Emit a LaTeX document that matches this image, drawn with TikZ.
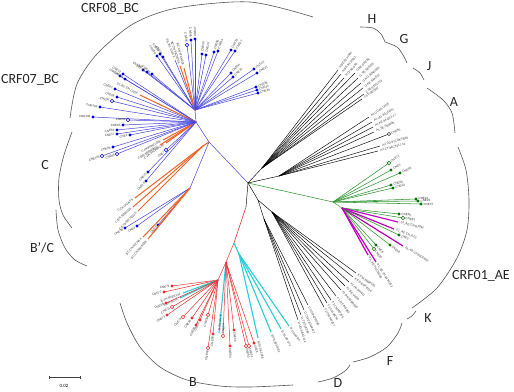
\documentclass[tikz,border=0pt]{standalone}
\usepackage{fontspec}
\setmainfont{Carlito}
\newfontfamily\leaffont{Liberation Sans}
\definecolor{cblue}{RGB}{70,70,225}
\definecolor{cbdot}{RGB}{0,0,215}
\definecolor{corange}{RGB}{240,100,40}
\definecolor{cred}{RGB}{235,45,45}
\definecolor{ccyan}{RGB}{40,205,215}
\definecolor{cgreen}{RGB}{50,150,50}
\definecolor{cgdot}{RGB}{0,115,0}
\definecolor{cmag}{RGB}{190,0,190}
\definecolor{carc}{RGB}{85,85,85}
\tikzset{
  blu/.style={draw=cblue,line width=0.5pt},
  ora/.style={draw=corange,line width=1pt},
  rd/.style={draw=cred,line width=0.5pt},
  cyn/.style={draw=ccyan,line width=1.1pt},
  grn/.style={draw=cgreen,line width=0.55pt},
  mag/.style={draw=cmag,line width=1.2pt},
  blk/.style={draw=black,line width=0.45pt},
  dB/.style={fill=cbdot},
  oB/.style={draw=cbdot,fill=white,line width=0.5pt},
  dR/.style={fill=cred},
  oR/.style={draw=cred,fill=white,line width=0.5pt},
  dG/.style={fill=cgdot},
  oG/.style={draw=cgdot,fill=white,line width=0.5pt},
  oK/.style={draw=black,fill=white,line width=0.4pt},
  nomk/.style={},
  lbl/.style={font=\leaffont\fontsize{3}{3}\selectfont,text=black!80,inner xsep=2.3pt,inner ysep=0.2pt,sloped},
  clade/.style={font=\fontsize{14}{16}\selectfont,text=black!85},
  arcs/.style={draw=carc,line width=0.6pt}
}
\newcount\lfc
\newcommand\leafR[5]{\global\advance\lfc by 1
  \coordinate (lf\the\lfc) at (#2);
  \draw[#3] (#1) -- (lf\the\lfc) node[lbl,pos=1,anchor=west]{#5};
  \path[#4] (lf\the\lfc) circle[radius=1.7];}
\newcommand\leafL[5]{\global\advance\lfc by 1
  \coordinate (lf\the\lfc) at (#2);
  \draw[#3] (#1) -- (lf\the\lfc) node[lbl,pos=1,anchor=east]{#5};
  \path[#4] (lf\the\lfc) circle[radius=1.7];}
\begin{document}
\begin{tikzpicture}[x=1pt,y=-1pt]
\useasboundingbox (0,0) rectangle (514,391);
\fill[white] (0,0) rectangle (514,391);
% ---------- internal nodes ----------
\coordinate (R) at (248,183);
\coordinate (Tb) at (209,142);
\coordinate (H1) at (196,122);
\coordinate (H2) at (195,110);
\coordinate (O1) at (203,146);
\coordinate (Cb) at (190,188);
\coordinate (U1) at (262,168);
\coordinate (U2) at (279,176);
\coordinate (Gh) at (333,202);
\coordinate (Gm) at (342,208);
\coordinate (Dh) at (258,200);
\coordinate (Fh) at (272,212);
\coordinate (Dd) at (264,219);
\coordinate (Rb1) at (246,207);
\coordinate (Rb2) at (234,243);
\coordinate (Rb3) at (218,280);
\coordinate (Rd) at (226,262);
\coordinate (Rc) at (239,254);
% ---------- trunks ----------
\draw[blu] (R) -- (Tb) -- (H1) -- (H2);
\draw[blu] (Tb) -- (Cb);
\draw[ora] (Tb) -- (O1);
\draw[blk] (R) -- (U1);
\draw[blk] (R) -- (U2);
\draw[grn] (R) -- (Gh) -- (Gm);
\draw[blk] (R) -- (Dh) -- (Fh);
\draw[blk] (Dh) -- (Dd);
\draw[blk] (R) -- (Rb1);
\draw[rd] (Rb1) -- (Rb2) -- (Rd) -- (Rb3);
\draw[cyn] (Rb2) -- (Rc);
% ---------- CRF08_BC ----------
\leafL{H2}{143,70}{blu}{dB}{CNE42}
\leafL{H2}{147,72}{blu}{dB}{CNE40}
\leafL{H2}{152,74}{blu}{dB}{CNE26}
\leafL{H2}{157,56}{blu}{dB}{CNE50}
\leafL{H2}{160,54}{blu}{dB}{CNE52}
\leafL{H2}{163,57}{blu}{dB}{CNE49}
\leafL{H2}{175,60}{blu}{nomk}{08\_BC.CN.GX}
\leafL{H2}{180,66}{ora}{nomk}{BC.CN.98CN006}
\leafL{H2}{184,68}{ora}{nomk}{BC.CN.97CN001}
\leafL{H2}{187,45}{blu}{oB}{CNE46}
\leafL{H2}{191,40}{blu}{dB}{CNE45}
\leafR{H2}{195,39}{blu}{dB}{CNE47}
\leafR{H2}{202,54}{blu}{dB}{CNE30}
\leafR{H2}{206,55}{blu}{dB}{CNE19}
\leafR{H2}{214,52}{blu}{dB}{CNE48}
\leafR{H2}{218,51}{blu}{dB}{CNE34}
\leafR{H2}{231,50}{blu}{dB}{CNE33}
\leafR{H2}{235,51}{blu}{dB}{CNE27}
\leafR{H2}{231,73}{blu}{dB}{CNE54}
\leafR{H2}{233,77}{blu}{dB}{CNE31}
\leafR{H2}{254,69}{blu}{dB}{CNE22}
\leafR{H2}{257,73}{blu}{dB}{CNE21}
\leafR{H2}{256,87}{blu}{dB}{CNE38}
\leafR{H2}{257,90}{blu}{dB}{CNE43}
\leafR{H2}{258,93}{blu}{dB}{CNE39}
% ---------- CRF07_BC ----------
\leafL{H1}{120,76}{blu}{dB}{CNE14}
\leafL{H1}{123,74}{blu}{dB}{CNE12}
\leafL{H1}{125,79}{blu}{dB}{CNE63}
\leafL{H1}{140,95}{ora}{nomk}{07\_BC.CN.CN54}
\leafL{H1}{115,89}{blu}{dB}{CNE67}
\leafL{H1}{117,97}{blu}{dB}{CNE66}
\leafL{H1}{112,101}{blu}{oB}{CNE92}
\leafL{H1}{100,107}{blu}{dB}{CNE103}
\leafL{H1}{93,117}{blu}{dB}{CNE106}
\leafL{H1}{128,120}{blu}{oB}{CNE68}
\leafL{H1}{123,125}{blu}{dB}{CNE65}
\leafL{H1}{117,130}{blu}{dB}{CNE82}
\leafL{H1}{117,134}{blu}{dB}{CNE17}
\leafL{H1}{130,135}{blu}{dB}{CNE2}
% ---------- C ----------
\leafL{H1}{166,143}{ora}{nomk}{C.ZA.04ZASK146}
\leafL{H1}{163,140}{ora}{nomk}{C.IN.95IN21068}
\leafL{H1}{160,145}{ora}{nomk}{C.BW.96BW0502}
\leafL{H1}{166,150}{blu}{oB}{CNE7}
\leafL{H1}{113,147}{blu}{dB}{CNE86}
\leafL{H1}{117,154}{blu}{oB}{CNE85}
\leafL{H1}{102,156}{blu}{oB}{CNE103}
\leafL{H1}{148,172}{blu}{dB}{CNE15}
\leafL{H1}{146,181}{blu}{dB}{CNE16}
\leafL{O1}{135,198}{ora}{nomk}{C.ZA.04ZAPS}
\leafL{O1}{133,207}{ora}{nomk}{C.BR.92BR025}
\leafL{O1}{138,211}{ora}{nomk}{C.ET.86ETH2220}
% ---------- B'/C ----------
\leafL{Cb}{125,228}{blu}{dB}{CNE18}
\leafL{Cb}{137,226}{blu}{dB}{CNE3}
\leafL{Cb}{158,225}{blu}{dB}{CNE6}
\leafL{Cb}{143,237}{ora}{nomk}{BC.CN.97CN54}
\leafL{Cb}{148,239}{ora}{nomk}{BC.CN.98CN009}
\leafL{Cb}{153,233}{ora}{nomk}{}
% ---------- H G J ----------
\leafR{U1}{338,70}{blk}{nomk}{H.BE.93.VI997}
\leafR{U1}{341,74}{blk}{nomk}{H.BE.93.VI991}
\leafR{U1}{344,78}{blk}{nomk}{H.CF.90.056}
\leafR{U1}{355,73}{blk}{nomk}{G.BE.DRCBL}
\leafR{U1}{358,78}{blk}{nomk}{G.SE.SE6165}
\leafR{U1}{361,83}{blk}{nomk}{G.NG.92NG083}
\leafR{U1}{363,88}{blk}{nomk}{G.KE.93KE12}
\leafR{U1}{364,94}{blk}{nomk}{J.SE.SE91733}
\leafR{U1}{362,99}{blk}{nomk}{J.SE.SE7887}
% ---------- A ----------
\leafR{U2}{369,117}{blk}{nomk}{A1.UG.85.U455}
\leafR{U2}{372,122}{blk}{nomk}{A1.UG.92UG037}
\leafR{U2}{373,127}{blk}{nomk}{A1.KE.94.Q23.17}
\leafR{U2}{374,132}{blk}{nomk}{A1.SE.SE8891}
\leafR{U2}{389,134}{blk}{oK}{CNE55}
\leafR{U2}{380,146}{blk}{nomk}{A2.CD.97CDKTB48}
\leafR{U2}{378,151}{blk}{nomk}{A2.CY.94CY017.41}
% ---------- CRF01_AE ----------
\leafR{Gh}{389,163}{grn}{oG}{CNE71}
\leafR{Gh}{391,170}{grn}{dG}{CNE5}
\leafR{Gh}{400,173}{grn}{dG}{CNE56}
\leafR{Gh}{391,185}{grn}{dG}{CNE60}
\leafR{Gh}{393,188}{grn}{dG}{CNE20}
\leafR{Gh}{416,199}{grn}{dG}{CNE24}
\leafR{Gh}{418,201}{grn}{dG}{CNE29}
\leafR{Gh}{421,204}{grn}{dG}{CNE37}
\leafR{Gm}{399,214}{grn}{dG}{CNE62}
\leafR{Gm}{403,218}{grn}{oG}{CNE61}
\leafR{Gm}{398,222}{mag}{nomk}{01\_AE.CN.BJOM}
\leafR{Gm}{394,229}{mag}{nomk}{01\_AE.CN.JL01}
\leafR{Gm}{399,235}{grn}{dG}{CNE3}
\leafR{Gm}{403,246}{mag}{nomk}{01\_AE.CF.90CF402}
\leafR{Gm}{390,245}{grn}{dG}{CNE58}
\leafR{Gm}{376,245}{grn}{dG}{CNE8}
\leafR{Gm}{374,249}{grn}{oG}{CNE10}
\leafR{Gm}{368,255}{mag}{nomk}{01\_AE.TH.CM240}
\leafR{Gm}{376,262}{mag}{nomk}{01\_AE.TH.93TH253}
% ---------- K F D ----------
\leafR{Fh}{356,273}{blk}{nomk}{K.CM.96MP535}
\leafR{Fh}{353,277}{blk}{nomk}{K.CD.EQTB11C}
\leafR{Fh}{349,282}{blk}{nomk}{F1.FR.MP411}
\leafR{Fh}{345,286}{blk}{nomk}{F1.BE.VI850}
\leafR{Fh}{341,290}{blk}{nomk}{F1.BR.93BR020}
\leafR{Fh}{336,296}{blk}{nomk}{F1.FI.FIN9363}
\leafR{Fh}{331,300}{blk}{nomk}{F2.CM.MP255}
\leafR{Fh}{327,303}{blk}{nomk}{F2.CM.95CM}
\leafR{Fh}{324,307}{blk}{nomk}{F2.CM.MP257}
\leafR{Dd}{308,305}{blk}{nomk}{D.CD.84ZR085}
\leafR{Dd}{304,310}{blk}{nomk}{D.CM.01CM4412}
\leafR{Dd}{301,315}{blk}{nomk}{D.TZ.01A280}
\leafR{Dd}{298,320}{blk}{nomk}{D.UG.94UG114}
% ---------- B ----------
\leafL{Rb3}{172,286}{rd}{dR}{CNE76}
\leafL{Rb3}{164,292}{rd}{dR}{CNE77}
\leafL{Rb3}{183,293}{cyn}{nomk}{B.TH.90.BK132}
\leafL{Rb3}{180,298}{cyn}{nomk}{B.CN.RL42}
\leafL{Rb3}{166,303}{rd}{dR}{CNE69}
\leafL{Rb3}{172,307}{rd}{oR}{CNE70}
\leafL{Rb3}{167,315}{rd}{dR}{CNE73}
\leafL{Rb3}{183,317}{rd}{oR}{CNE78}
\leafL{Rb3}{192,318}{rd}{dR}{CNE35}
\leafL{Rb3}{200,320}{rd}{dR}{CNE75}
\leafL{Rb3}{196,325}{rd}{dR}{CNE81}
\leafL{Rb3}{208,315}{rd}{oR}{CNE59}
\leafL{Rb3}{213,334}{rd}{dR}{CNE80}
\leafL{Rb3}{208,348}{rd}{oR}{CNE83}
\leafR{Rd}{219,333}{cyn}{nomk}{B.CN.HN24}
\leafR{Rd}{223,336}{rd}{oR}{CNE64}
\leafR{Rd}{230,346}{rd}{dR}{CNE84}
\leafR{Rd}{234,330}{rd}{dR}{CNE44}
\leafR{Rd}{246,346}{rd}{oR}{CNE90}
\leafR{Rd}{249,346}{rd}{oR}{CNE91}
\leafR{Rd}{254,343}{rd}{dR}{CNE4}
\leafR{Rc}{258,338}{cyn}{nomk}{B.US.98.1058}
\leafR{Rc}{271,332}{cyn}{nomk}{B.FR.83.HXB2}
\leafR{Rc}{281,329}{cyn}{nomk}{B.NL.00.671}
\leafR{Rc}{289,326}{cyn}{nomk}{B.US.83.RF}
% ---------- clade arcs ----------
\draw[arcs] plot[smooth] coordinates {(70,118) (77,84) (97,54) (133,24) (177,8) (250,2) (313,17)};
\draw[arcs] plot[smooth] coordinates {(72,132) (64,155) (59,178) (59,200) (63,215) (72,228)};
\draw[arcs] plot[smooth] coordinates {(56,210) (58,230) (65,248) (75,260) (87,266)};
\draw[arcs] plot[smooth] coordinates {(120,303) (127,323) (140,347) (160,367) (187,380) (220,386) (250,387) (293,385)};
\draw[arcs] plot[smooth] coordinates {(318,382) (333,378) (345,371) (350,365)};
\draw[arcs] plot[smooth] coordinates {(353,362) (370,357) (387,347) (398,333) (402,323)};
\draw[arcs] plot[smooth] coordinates {(407,319) (412,316) (416,311)};
\draw[arcs] plot[smooth] coordinates {(412,308) (437,288) (457,258) (467,230) (469,200) (466,170) (458,147)};
\draw[arcs] plot[smooth] coordinates {(427,88) (443,100) (452,113) (455,133)};
\draw[arcs] plot[smooth] coordinates {(413,68) (420,73) (424,80)};
\draw[arcs] plot[smooth] coordinates {(385,42) (397,47) (403,55) (407,63)};
\draw[arcs] plot[smooth] coordinates {(360,27) (373,28) (381,34) (385,42)};
% ---------- clade labels ----------
\node[clade] (lCRF08) at (110,9) {CRF08\_BC};
\node[clade] (lCRF07) at (30,80) {CRF07\_BC};
\node[clade] (lC) at (45,165) {C};
\node[clade] (lBC) at (42,248) {B'/C};
\node[clade] (lB) at (193,382) {B};
\node[clade] (lD) at (338,383) {D};
\node[clade] (lF) at (390,361) {F};
\node[clade] (lK) at (428,318) {K};
\node[clade] (lAE) at (481,276) {CRF01\_AE};
\node[clade] (lA) at (454,102) {A};
\node[clade] (lJ) at (429,66) {J};
\node[clade] (lG) at (404,39) {G};
\node[clade] (lH) at (372,19) {H};
% ---------- scale bar ----------
\coordinate (s1) at (49,377);
\coordinate (s2) at (80,377);
\draw[line width=0.6pt,draw=black!75] (s1) -- (s2);
\draw[line width=0.6pt,draw=black!75] ([yshift=-1.5pt]s1) -- ([yshift=1.5pt]s1);
\draw[line width=0.6pt,draw=black!75] ([yshift=-1.5pt]s2) -- ([yshift=1.5pt]s2);
\node[font=\leaffont\fontsize{4.5}{5}\selectfont] (sl) at (64,386) {0.02};
\end{tikzpicture}
\end{document}
